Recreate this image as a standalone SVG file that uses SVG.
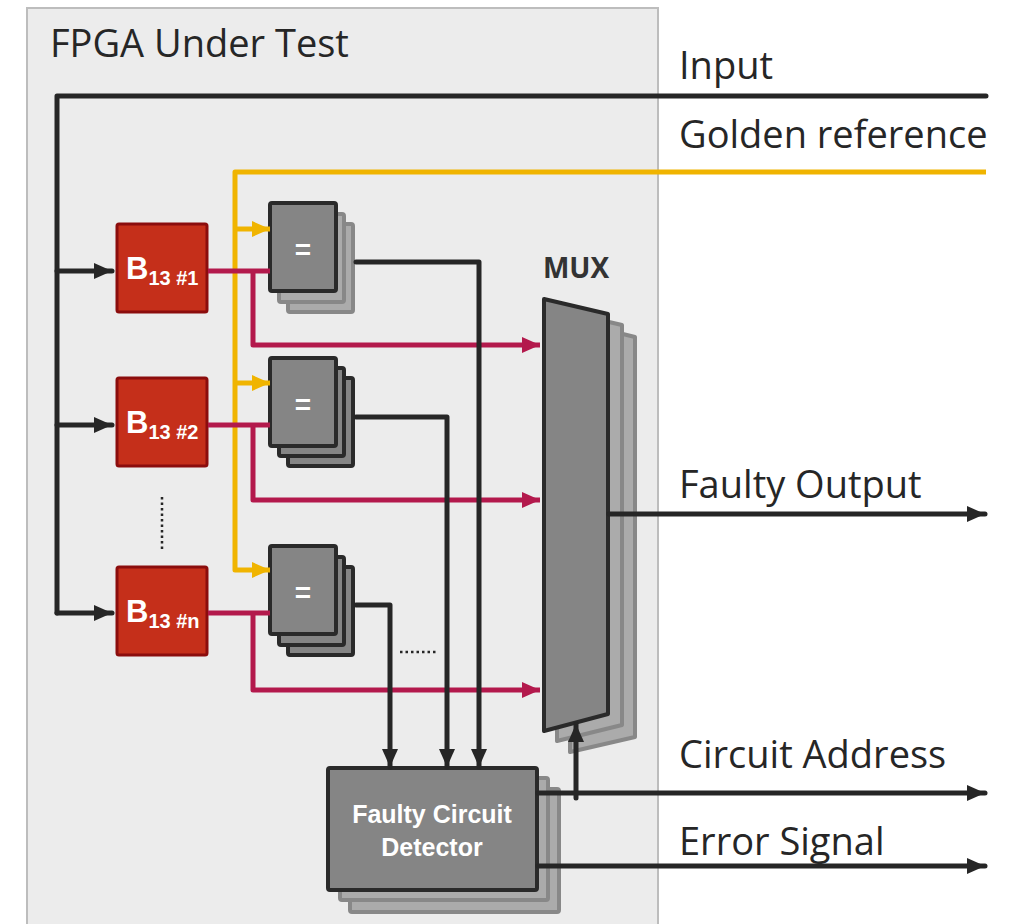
<svg xmlns="http://www.w3.org/2000/svg" width="1012" height="924" viewBox="0 0 1012 924">
<defs>
<style>
.lbl{font-family:"Open Sans","Noto Sans",sans-serif;font-size:38px;fill:#262626}
.wt{font-family:"Liberation Sans",Arial,sans-serif;font-weight:bold;fill:#fff}
.k{stroke:#262626;stroke-width:5;fill:none;stroke-linejoin:round;stroke-linecap:round}
.r{stroke:#b3194c;stroke-width:5;fill:none;stroke-linejoin:round}
.y{stroke:#f0b400;stroke-width:5;fill:none;stroke-linejoin:round}
.blk{fill:#c52f1a;stroke:#8b0d0d;stroke-width:3}
.front{fill:#858585;stroke:#2a2a2a;stroke-width:4;stroke-linejoin:round}
.back{fill:#ababab;stroke:#888;stroke-width:4;stroke-linejoin:round}
.backd{fill:#858585;stroke:#2a2a2a;stroke-width:4;stroke-linejoin:round}
</style>
<marker id="aK" markerUnits="userSpaceOnUse" markerWidth="20" markerHeight="20" refX="18" refY="9" orient="auto"><path d="M0,1 L18,9 L0,17 z" fill="#262626"/></marker>
<marker id="aR" markerUnits="userSpaceOnUse" markerWidth="20" markerHeight="20" refX="18" refY="9" orient="auto"><path d="M0,1 L18,9 L0,17 z" fill="#b3194c"/></marker>
<marker id="aY" markerUnits="userSpaceOnUse" markerWidth="20" markerHeight="20" refX="18" refY="9" orient="auto"><path d="M0,1 L18,9 L0,17 z" fill="#f0b400"/></marker>
</defs>
<rect width="1012" height="924" fill="#fff"/>
<rect id="panel" x="27" y="8" width="631" height="930" fill="#ececec" stroke="#bdbdbd" stroke-width="2"/>
<text class="lbl" x="50" y="57">FPGA Under Test</text>

<g id="b1">
<rect class="blk" x="117" y="224" width="90" height="88" rx="2"/>
<text class="wt" x="126" y="279" font-size="31">B<tspan font-size="20" dy="6">13 </tspan><tspan font-size="20">#1</tspan></text>
</g>
<g id="b2">
<rect class="blk" x="117" y="378" width="90" height="88" rx="2"/>
<text class="wt" x="126" y="433" font-size="31">B<tspan font-size="20" dy="6">13 </tspan><tspan font-size="20">#2</tspan></text>
</g>
<g id="bn">
<rect class="blk" x="117" y="567" width="90" height="88" rx="2"/>
<text class="wt" x="126" y="622" font-size="31">B<tspan font-size="20" dy="6">13 </tspan><tspan font-size="20">#n</tspan></text>
</g>

<g id="cmp1">
<rect class="back" x="288" y="224" width="65" height="88" rx="2"/>
<rect class="back" x="279" y="214" width="65" height="88" rx="2"/>
<rect class="front" x="270" y="203" width="66" height="88" rx="2"/>
<text class="wt" x="303" y="259" font-size="28" text-anchor="middle">=</text>
</g>
<g id="cmp2">
<rect class="backd" x="288" y="378" width="65" height="88" rx="2"/>
<rect class="backd" x="279" y="368" width="65" height="88" rx="2"/>
<rect class="front" x="270" y="358" width="66" height="88" rx="2"/>
<text class="wt" x="303" y="414" font-size="28" text-anchor="middle">=</text>
</g>
<g id="cmpn">
<rect class="backd" x="288" y="567" width="65" height="88" rx="2"/>
<rect class="backd" x="279" y="557" width="65" height="88" rx="2"/>
<rect class="front" x="270" y="546" width="66" height="88" rx="2"/>
<text class="wt" x="303" y="602" font-size="28" text-anchor="middle">=</text>
</g>

<g id="mux">
<path class="back" d="M570,321 L635,337 L635,737 L570,752 Z"/>
<path class="back" d="M557,310 L622,325 L622,725 L557,741 Z"/>
<path class="front" d="M544,299 L608,314 L608,714 L544,731 Z"/>
<text x="576" y="278" font-family="'Open Sans','Noto Sans',sans-serif" font-weight="700" font-size="28" fill="#333" text-anchor="middle">MUX</text>
</g>

<g id="fcd">
<rect class="back" x="350" y="789" width="209" height="123" rx="2"/>
<rect class="back" x="340" y="778" width="208" height="122" rx="2"/>
<rect class="front" x="328" y="768" width="209" height="122" rx="2"/>
<text class="wt" x="432" y="823" font-size="25" text-anchor="middle">Faulty Circuit</text>
<text class="wt" x="432" y="856" font-size="25" text-anchor="middle">Detector</text>
</g>

<g id="connectors">
<path class="k" d="M986,96 L57,96 L57,613"/>
<path class="k" d="M57,271 L112,271" marker-end="url(#aK)"/>
<path class="k" d="M57,425 L112,425" marker-end="url(#aK)"/>
<path class="k" d="M57,613 L112,613" marker-end="url(#aK)"/>
<path class="y" d="M986,172 L235,172 L235,570 L270,570" marker-end="url(#aY)"/>
<path class="y" d="M235,229 L270,229" marker-end="url(#aY)"/>
<path class="y" d="M235,383 L270,383" marker-end="url(#aY)"/>
<path class="r" d="M208,271 L270,271"/>
<path class="r" d="M253,271 L253,345 L540,345" marker-end="url(#aR)"/>
<path class="r" d="M208,425 L270,425"/>
<path class="r" d="M253,425 L253,500 L540,500" marker-end="url(#aR)"/>
<path class="r" d="M208,613 L270,613"/>
<path class="r" d="M253,613 L253,690 L540,690" marker-end="url(#aR)"/>
<path class="k" d="M356,262 L479,262 L479,767" marker-end="url(#aK)"/>
<path class="k" d="M356,417 L447,417 L447,767" marker-end="url(#aK)"/>
<path class="k" d="M356,605 L390,605 L390,767" marker-end="url(#aK)"/>
<path class="k" d="M609,514 L985,514" marker-end="url(#aK)"/>
<path class="k" d="M538,793 L985,793" marker-end="url(#aK)"/>
<path class="k" d="M576,798 L576,724" marker-end="url(#aK)"/>
<path class="k" d="M538,866 L985,866" marker-end="url(#aK)"/>
<line x1="162" y1="497" x2="162" y2="549" stroke="#262626" stroke-width="2.5" stroke-dasharray="2.5,3"/>
<line x1="400" y1="652" x2="436" y2="652" stroke="#262626" stroke-width="2.5" stroke-dasharray="2.5,3"/>
</g>

<g id="labels">
<text class="lbl" x="679" y="79">Input</text>
<text class="lbl" x="679" y="148">Golden reference</text>
<text class="lbl" x="679" y="498">Faulty Output</text>
<text class="lbl" x="679" y="768">Circuit Address</text>
<text class="lbl" x="679" y="855">Error Signal</text>
</g>
</svg>
